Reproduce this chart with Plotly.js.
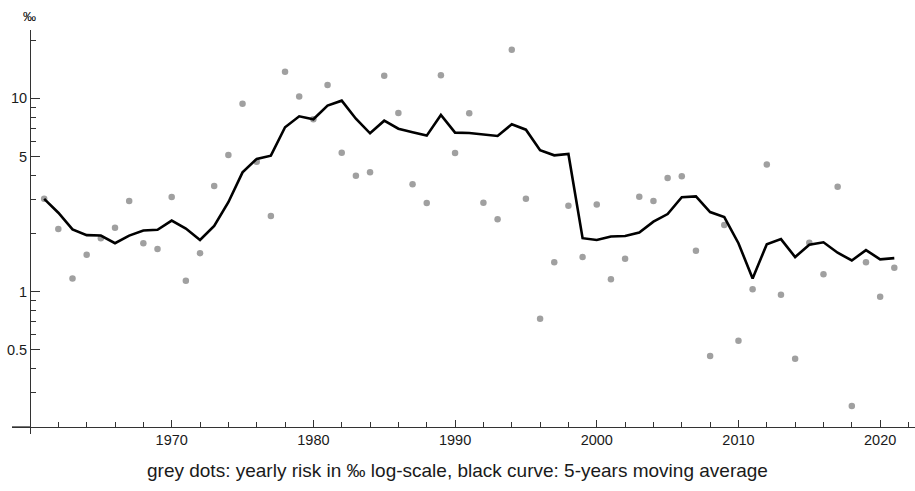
<!DOCTYPE html>
<html>
<head>
<meta charset="utf-8">
<script src="https://cdn.plot.ly/plotly-3.0.1.min.js"></script>
<style>html,body{margin:0;padding:0;background:#fff;}#chart{width:915px;height:491px;}</style>
</head>
<body>
<div id="chart"></div>
<script>
const years = [];
for (let y = 1961; y <= 2021; y++) years.push(y);

// yearly risk in per mille (grey dots)
const yearlyRisk = [
  3.02, 2.11, 1.17, 1.55, 1.89, 2.14, 2.94, 1.78, 1.66, 3.09,
  1.14, 1.58, 3.52, 5.09, 9.38, 4.69, 2.46, 13.7, 10.2, 7.79,
  11.7, 5.23, 3.98, 4.14, 13.09, 8.40, 3.59, 2.87, 13.15, 5.21,
  8.36, 2.88, 2.37, 17.8, 3.02, 0.725, 1.42, 2.78, 1.51, 2.82,
  1.16, 1.48, 3.10, 2.94, 3.87, 3.95, 1.63, 0.465, 2.21, 0.558,
  1.03, 4.54, 0.965, 0.45, 1.79, 1.23, 3.49, 0.256, 1.42, 0.942,
  1.33
];

// 5-years moving average (black curve)
const movingAvg = [
  3.02, 2.56, 2.10, 1.96, 1.95, 1.78, 1.95, 2.07, 2.09, 2.33,
  2.12, 1.85, 2.19, 2.90, 4.14, 4.86, 5.05, 7.08, 8.07, 7.79,
  9.16, 9.72, 7.84, 6.59, 7.66, 6.96, 6.67, 6.41, 8.20, 6.64,
  6.61, 6.51, 6.38, 7.34, 6.88, 5.39, 5.07, 5.15, 1.89, 1.85,
  1.93, 1.94, 2.02, 2.30, 2.52, 3.08, 3.11, 2.58, 2.43, 1.78,
  1.17, 1.76, 1.87, 1.51, 1.75, 1.80, 1.59, 1.45, 1.64, 1.47,
  1.49
];

const xMajorTicks = [1970, 1980, 1990, 2000, 2010, 2020];
const xMinorTicks = [1962,1964,1966,1968,1972,1974,1976,1978,1982,1984,1986,1988,1992,1994,1996,1998,2002,2004,2006,2008,2012,2014,2016,2018,2022];
const yMajorTicks = [0.5, 1, 5, 10];
const yMajorLabels = ['0.5', '1', '5', '10'];
const yMinorTicks = [0.3,0.4,0.6,0.7,0.8,0.9,2,3,4,6,7,8,9,20];

const axisColor = '#333333';
const font = {family: 'Liberation Sans, Arial, sans-serif', size: 14.5, color: '#1a1a1a'};

const traces = [
  {
    x: years, y: yearlyRisk, type: 'scatter', mode: 'markers',
    marker: {color: '#a0a0a0', size: 6.5}, hoverinfo: 'skip'
  },
  {
    x: years, y: movingAvg, type: 'scatter', mode: 'lines',
    line: {color: '#000000', width: 2.6}, hoverinfo: 'skip'
  }
];

const xLeft = 1958.73, xRight = 2022.46;
const yTopLog = 1.353, yBotLog = -0.736;
const yAxisPos = (1960 - xLeft) / (xRight - xLeft);
const xAxisPos = (Math.log10(0.2) - yBotLog) / (yTopLog - yBotLog);

const layout = {
  width: 915, height: 491,
  margin: {l: 12, r: 0, t: 30, b: 57},
  paper_bgcolor: '#ffffff', plot_bgcolor: '#ffffff',
  showlegend: false,
  font: font,
  xaxis: {
    range: [xLeft, xRight],
    anchor: 'free', position: xAxisPos,
    showgrid: false, zeroline: false,
    showline: true, linecolor: axisColor, linewidth: 1,
    tickmode: 'array', tickvals: xMajorTicks, ticktext: xMajorTicks.map(String),
    ticks: 'inside', ticklen: 7, tickcolor: axisColor, tickwidth: 1,
    tickfont: font,
    minor: {tickmode: 'array', tickvals: xMinorTicks, ticks: 'inside', ticklen: 4.5, tickcolor: axisColor, tickwidth: 1, showgrid: false}
  },
  yaxis: {
    type: 'log',
    range: [yBotLog, yTopLog],
    anchor: 'free', position: yAxisPos,
    showgrid: false, zeroline: false,
    showline: true, linecolor: axisColor, linewidth: 1,
    tickmode: 'array', tickvals: yMajorTicks, ticktext: yMajorLabels,
    ticks: 'inside', ticklen: 9, tickcolor: axisColor, tickwidth: 1,
    tickfont: font,
    minor: {tickmode: 'array', tickvals: yMinorTicks, ticks: 'inside', ticklen: 5, tickcolor: axisColor, tickwidth: 1, showgrid: false}
  },
  shapes: [
    {type: 'line', xref: 'paper', yref: 'paper', x0: 0, x1: yAxisPos, y0: xAxisPos, y1: xAxisPos, line: {color: axisColor, width: 1}}
  ],
  annotations: [
    {text: '‰', xref: 'x', yref: 'paper', x: 1960, y: 1, yshift: 14, showarrow: false, xanchor: 'center', yanchor: 'middle', font: {family: 'Liberation Sans, Arial, sans-serif', size: 13, color: '#000000'}},
    {text: 'grey dots: yearly risk in ‰ log-scale, black curve: 5-years moving average', xref: 'paper', yref: 'paper', x: 0.493, y: 0, yshift: -36, showarrow: false, xanchor: 'center', yanchor: 'middle', font: {family: 'Liberation Sans, Arial, sans-serif', size: 19, color: '#1a1a1a'}}
  ]
};

Plotly.newPlot('chart', traces, layout, {staticPlot: true, displayModeBar: false});
</script>
</body>
</html>
